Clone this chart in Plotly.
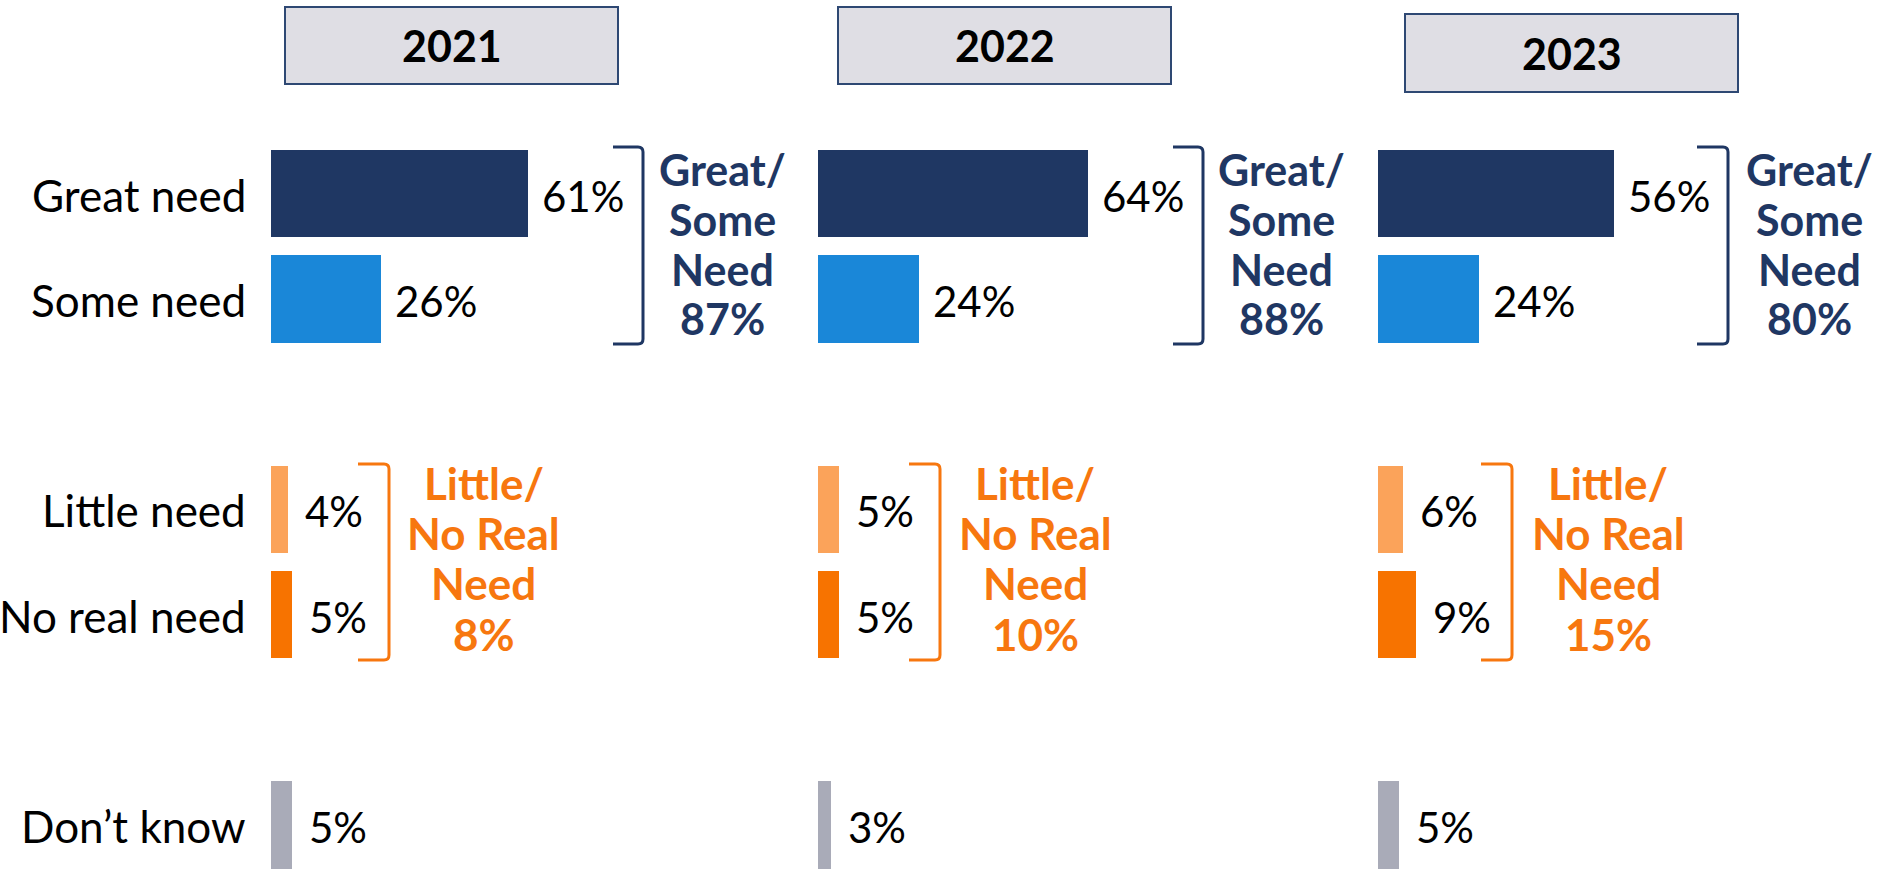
import plotly.graph_objects as go

# ---------------- data ----------------
years = ["2021", "2022", "2023"]
categories = ["Great need", "Some need", "Little need", "No real need", "Don’t know"]
great_need = [61, 64, 56]
some_need = [26, 24, 24]
little_need = [4, 5, 6]
no_real_need = [5, 5, 9]
dont_know = [5, 3, 5]
great_some_total = [87, 88, 80]
little_no_total = [8, 10, 15]

# ---------------- layout constants (pixels) ----------------
W, H = 1879, 869
row_slots = [0, 1, 3, 4, 6]
bar_width = 0.83
panel_x0 = [271, 818, 1378]
panel_px_w = 422
x_max = 100
plot_top_px = 141

FONT = "Lato"
navy = "#1F3763"
blue = "#1A87D8"
light_orange = "#FBA35A"
orange = "#F77300"
orange_text = "#F7770F"
gray = "#A9ABB8"
box_fill = "#DFDEE4"
box_line = "#2E4873"
bar_colors = [navy, blue, light_orange, orange, gray]

header_boxes = [(285, 7, 618, 84), (838, 7, 1171, 84), (1405, 14, 1738, 92)]
navy_bracket = [(613, 643), (1173, 1203), (1697, 1728)]
navy_bracket_y = (147, 344)
navy_text_x = [722, 1281, 1809]
navy_line_y = [169, 219, 269, 319]
orange_bracket = [(358, 389), (909, 940), (1481, 1512)]
orange_bracket_y = (464, 660)
orange_text_x = [484, 1035, 1608]
orange_line_y = [483, 533, 583, 634]


def px(x):
    return x / W


def py(y):
    return 1 - y / H


fig = go.Figure()

for i, year in enumerate(years):
    n = "" if i == 0 else str(i + 1)
    xa, ya = "x" + n, "y" + n
    vals = [great_need[i], some_need[i], little_need[i], no_real_need[i], dont_know[i]]
    fig.add_trace(go.Bar(
        x=vals, y=row_slots, orientation="h", width=bar_width,
        marker=dict(color=bar_colors, line=dict(width=0)),
        xaxis=xa, yaxis=ya, showlegend=False,
        hovertext=categories, hoverinfo="text+x",
    ))
    for v, s in zip(vals, row_slots):
        fig.add_annotation(
            x=v, y=s, xref=xa, yref=ya, text=f"{v}%", showarrow=False,
            xanchor="left", yanchor="middle", xshift=12 if v > 10 else 15, yshift=-2,
            font=dict(family=FONT, size=42, color="#000000"),
        )
    fig.layout["xaxis" + n] = dict(
        domain=[px(panel_x0[i]), px(panel_x0[i] + panel_px_w)],
        range=[0, x_max], visible=False, fixedrange=True, anchor=ya,
    )
    fig.layout["yaxis" + n] = dict(
        domain=[0, 1 - plot_top_px / H],
        range=[6.418, -0.5], visible=False, fixedrange=True, anchor=xa,
    )

    # header box
    x0, y0, x1, y1 = header_boxes[i]
    fig.add_shape(type="rect", xref="paper", yref="paper",
                  x0=px(x0), x1=px(x1), y0=py(y0), y1=py(y1),
                  fillcolor=box_fill, line=dict(color=box_line, width=2))
    fig.add_annotation(xref="paper", yref="paper", x=px((x0 + x1) / 2), y=py((y0 + y1) / 2),
                       text=f"<b>{year}</b>", showarrow=False, xanchor="center", yanchor="middle",
                       font=dict(family=FONT, size=43, color="#000000"))

    # brackets
    for (lx, vx), (ty, by), col in [
        (navy_bracket[i], navy_bracket_y, navy),
        (orange_bracket[i], orange_bracket_y, orange_text),
    ]:
        r = 5
        path = (f"M {px(lx)},{py(ty)} L {px(vx - r)},{py(ty)} "
                f"Q {px(vx)},{py(ty)} {px(vx)},{py(ty + r)} "
                f"L {px(vx)},{py(by - r)} "
                f"Q {px(vx)},{py(by)} {px(vx - r)},{py(by)} "
                f"L {px(lx)},{py(by)}")
        fig.add_shape(type="path", xref="paper", yref="paper", path=path,
                      line=dict(color=col, width=3))

    # group totals (one annotation per line to control line pitch)
    navy_lines = ["Great/", "Some", "Need", f"{great_some_total[i]}%"]
    for txt, ly in zip(navy_lines, navy_line_y):
        fig.add_annotation(xref="paper", yref="paper", x=px(navy_text_x[i]), y=py(ly),
                           text=f"<b>{txt}</b>", showarrow=False,
                           xanchor="center", yanchor="middle",
                           font=dict(family=FONT, size=43, color=navy))
    orange_lines = ["Little/", "No Real", "Need", f"{little_no_total[i]}%"]
    for txt, ly in zip(orange_lines, orange_line_y):
        fig.add_annotation(xref="paper", yref="paper", x=px(orange_text_x[i]), y=py(ly),
                           text=f"<b>{txt}</b>", showarrow=False,
                           xanchor="center", yanchor="middle",
                           font=dict(family=FONT, size=44, color=orange_text))

# category labels
for cat, s in zip(categories, row_slots):
    fig.add_annotation(xref="paper", yref="y", x=px(248), y=s, text=cat, showarrow=False,
                       xanchor="right", yanchor="middle", yshift=-1,
                       font=dict(family=FONT, size=44, color="#000000"))

fig.update_layout(
    width=W, height=H,
    margin=dict(l=0, r=0, t=0, b=0),
    paper_bgcolor="white", plot_bgcolor="white",
    bargap=0, showlegend=False,
)

fig.write_html("out.html",
               config={"displayModeBar": False},
               post_script="document.body.style.margin='0';document.body.style.overflow='hidden';")
